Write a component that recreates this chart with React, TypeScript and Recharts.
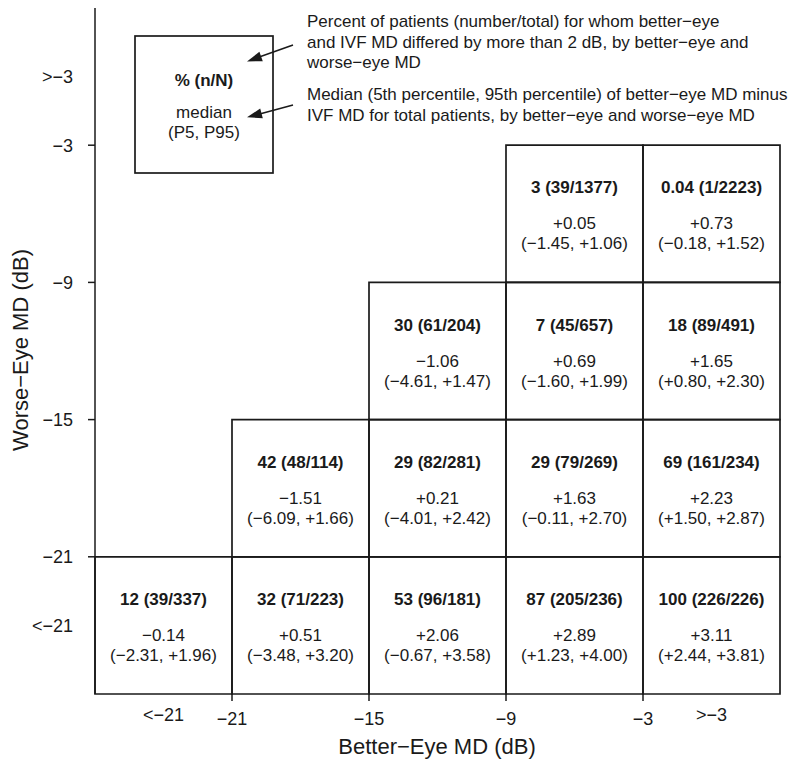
import React from 'react';
import { ComposedChart, XAxis, YAxis, ReferenceArea, Scatter } from 'recharts';

// Bin edges of MD (dB); the outer edges close the open-ended bins (<-21, >-3)
const binEdges = [-27, -21, -15, -9, -3, 3];
const tickValues = [-24, -21, -15, -9, -3, 0];
const tickLabels = ['<−21', '−21', '−15', '−9', '−3', '>−3'];

// Each cell: better-eye bin index, worse-eye bin index
const betterBin = [3, 4, 2, 3, 4, 1, 2, 3, 4, 0, 1, 2, 3, 4];
const worseBin = [3, 3, 2, 2, 2, 1, 1, 1, 1, 0, 0, 0, 0, 0];
const pct = [3, 0.04, 30, 7, 18, 42, 29, 29, 69, 12, 32, 53, 87, 100];
const nCount = [39, 1, 61, 45, 89, 48, 82, 79, 161, 39, 71, 96, 205, 226];
const nTotal = [1377, 2223, 204, 657, 491, 114, 281, 269, 234, 337, 223, 181, 236, 226];
const median = [0.05, 0.73, -1.06, 0.69, 1.65, -1.51, 0.21, 1.63, 2.23, -0.14, 0.51, 2.06, 2.89, 3.11];
const p5 = [-1.45, -0.18, -4.61, -1.6, 0.8, -6.09, -4.01, -0.11, 1.5, -2.31, -3.48, -0.67, 1.23, 2.44];
const p95 = [1.06, 1.52, 1.47, 1.99, 2.3, 1.66, 2.42, 2.7, 2.87, 1.96, 3.2, 3.58, 4.0, 3.81];

const legendLines1 = [
  'Percent of patients (number/total) for whom better−eye',
  'and IVF MD differed by more than 2 dB, by better−eye and',
  'worse−eye MD',
];
const legendLines2 = [
  'Median (5th percentile, 95th percentile) of better−eye MD minus',
  'IVF MD for total patients, by better−eye and worse−eye MD',
];

const FONT = '"Liberation Sans", Arial, Helvetica, sans-serif';
const INK = '#1a1a1a';

const fmt = (v: number) => (v < 0 ? '−' : '+') + Math.abs(v).toFixed(2);

const cells = betterBin.map((b, i) => {
  const w = worseBin[i];
  const x1 = binEdges[b];
  const x2 = binEdges[b + 1];
  const y1 = binEdges[w];
  const y2 = binEdges[w + 1];
  return {
    x1, x2, y1, y2,
    cx: (x1 + x2) / 2,
    cy: (y1 + y2) / 2,
    top: `${pct[i]} (${nCount[i]}/${nTotal[i]})`,
    mid: fmt(median[i]),
    bot: `(${fmt(p5[i])}, ${fmt(p95[i])})`,
  };
});

const CellText = (props: any) => {
  const { cx, cy, payload } = props;
  if (cx == null || cy == null) return null;
  return (
    <g fontFamily={FONT} fontSize={17} fill={INK}>
      <text x={cx} y={cy - 20.5} textAnchor="middle" fontWeight="bold">{payload.top}</text>
      <text x={cx} y={cy + 15.5} textAnchor="middle">{payload.mid}</text>
      <text x={cx} y={cy + 35.5} textAnchor="middle">{payload.bot}</text>
    </g>
  );
};

const XTick = (props: any) => {
  const { x, y, payload } = props;
  const i = tickValues.indexOf(payload.value);
  const edge = i > 0 && i < tickValues.length - 1;
  return (
    <g>
      {edge && <line x1={x} x2={x} y1={y} y2={y + 7} stroke={INK} strokeWidth={1.5} />}
      <text x={x} y={y + (edge ? 31 : 27)} textAnchor="middle" fontFamily={FONT} fontSize={18} fill={INK}>
        {tickLabels[i]}
      </text>
    </g>
  );
};

const YTick = (props: any) => {
  const { x, y, payload } = props;
  const i = tickValues.indexOf(payload.value);
  const edge = i > 0 && i < tickValues.length - 1;
  return (
    <g>
      {edge && <line x1={x - 7} x2={x} y1={y} y2={y} stroke={INK} strokeWidth={1.5} />}
      <text x={x - 22} y={y + 6.5} textAnchor="end" fontFamily={FONT} fontSize={18} fill={INK}>
        {tickLabels[i]}
      </text>
    </g>
  );
};

export default function App() {
  return (
    <div style={{ position: 'absolute', left: 0, top: 0, width: 800, height: 771, background: '#fff' }}>
      <ComposedChart
        width={800}
        height={771}
        margin={{ top: 8, right: 20, bottom: 27, left: 35 }}
      >
        <XAxis
          dataKey="cx"
          type="number"
          domain={[-27, 3]}
          ticks={tickValues}
          interval={0}
          allowDataOverflow
          axisLine={false}
          tickLine={false}
          tickSize={0}
          tickMargin={0}
          height={50}
          tick={<XTick />}
        />
        <YAxis
          dataKey="cy"
          type="number"
          domain={[-27, 3]}
          ticks={tickValues}
          interval={0}
          allowDataOverflow
          axisLine={{ stroke: INK, strokeWidth: 1.5 }}
          tickLine={false}
          tickSize={0}
          tickMargin={0}
          width={60}
          tick={<YTick />}
        />
        {cells.map((c, i) => (
          <ReferenceArea
            key={i}
            x1={c.x1}
            x2={c.x2}
            y1={c.y1}
            y2={c.y2}
            fill="none"
            fillOpacity={0}
            stroke={INK}
            strokeWidth={1.7}
            ifOverflow="visible"
          />
        ))}
        <Scatter data={cells} dataKey="cy" shape={CellText} isAnimationActive={false} />
      </ComposedChart>
      <svg
        width={800}
        height={771}
        style={{ position: 'absolute', left: 0, top: 0, pointerEvents: 'none' }}
      >
        <rect x={135} y={36} width={138} height={137} fill="none" stroke={INK} strokeWidth={1.7} />
        <g fontFamily={FONT} fontSize={17} fill={INK}>
          <text x={204} y={86} textAnchor="middle" fontWeight="bold">% (n/N)</text>
          <text x={204} y={118} textAnchor="middle">median</text>
          <text x={204} y={138} textAnchor="middle">(P5, P95)</text>
          {legendLines1.map((t, i) => (
            <text key={'a' + i} x={307} y={27 + i * 20.5}>{t}</text>
          ))}
          {legendLines2.map((t, i) => (
            <text key={'b' + i} x={307} y={100 + i * 20.5}>{t}</text>
          ))}
        </g>
        <line x1={293} y1={45} x2={255} y2={58.5} stroke={INK} strokeWidth={1.5} />
        <path d="M247,61.5 L262.8,61.2 L259.4,51.8 z" fill={INK} />
        <line x1={293} y1={105} x2={255} y2={115.2} stroke={INK} strokeWidth={1.5} />
        <path d="M247,117.3 L262.8,118.2 L260.2,108.6 z" fill={INK} />
        <text x={437} y={754} textAnchor="middle" fontFamily={FONT} fontSize={22} fill={INK}>
          Better−Eye MD (dB)
        </text>
        <text
          transform="translate(28, 350) rotate(-90)"
          x={0}
          y={0}
          textAnchor="middle"
          fontFamily={FONT}
          fontSize={22}
          fill={INK}
        >
          Worse−Eye MD (dB)
        </text>
      </svg>
    </div>
  );
}
